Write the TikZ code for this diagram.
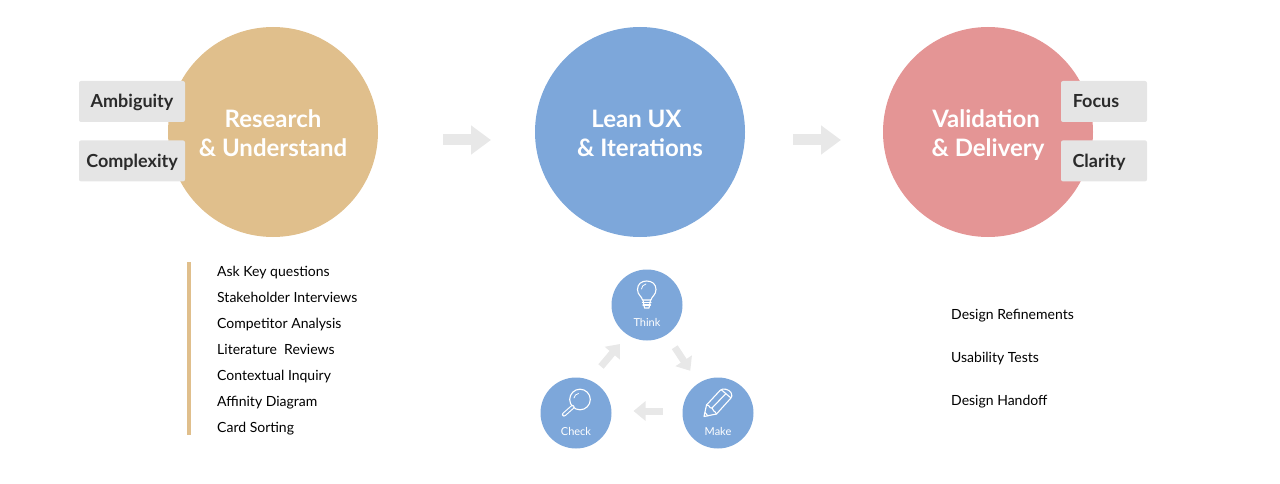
\documentclass[tikz,border=0pt]{standalone}
\usepackage{fontspec}
\setmainfont{Lato}
\usetikzlibrary{arrows.meta,positioning}
\definecolor{sand}{HTML}{E0BF8C}
\definecolor{sky}{HTML}{7DA7DA}
\definecolor{rose}{HTML}{E49595}
\definecolor{tagfill}{HTML}{E5E5E5}
\definecolor{arrowfill}{HTML}{E8E8E8}
\definecolor{inktext}{HTML}{2B2B2B}
\newcommand{\titlestrut}{\rule{0pt}{29pt}}

\begin{document}
\begin{tikzpicture}[x=1pt,y=-1pt]
        \tikzset{stage/.style={circle,inner sep=0pt,outer sep=0pt,minimum size=210pt,align=center,text=white,font=\bfseries\fontsize{24}{29}\selectfont},
        mini/.style={circle,inner sep=0pt,outer sep=0pt,minimum size=71pt,fill=sky},
        minilabel/.style={text=white,inner sep=0pt,font=\fontsize{11}{13}\selectfont},
        tag/.style={fill=tagfill,rounded corners=2pt,inner sep=0pt,minimum height=41pt,text height=15.5pt,text depth=2.5pt,text=inktext,font=\bfseries\fontsize{18}{22}\selectfont},
        item/.style={inner sep=0pt,anchor=base west,text=black,font=\fontsize{14}{17}\selectfont},
        bigarrow/.style={draw=arrowfill,line width=11pt,-{Triangle[length=20pt,width=28pt]}},
        smallarrow/.style={draw=arrowfill,line width=7pt,-{Triangle[length=12pt,width=19pt]}},
        icon/.style={draw=white,line width=1.1pt,line join=round,line cap=round},
        }
        \useasboundingbox (0,0) rectangle (1280,484);

        \node [stage,fill=sand] (research) at (273,132) {\titlestrut Research\\\strut\& Understand};
        \node [stage,fill=sky, right=157pt of research] (lean) {\titlestrut Lean UX\kern7pt\\\strut\& Iterations};
        \node [stage,fill=rose, right=138pt of lean] (validation) {\titlestrut Validation\kern4pt\\\strut\& Delivery};

        \node [tag,minimum width=106pt] (ambiguity) at (132,101.5) {Ambiguity};
        \node [tag,minimum width=106pt,below=18pt of ambiguity] (complexity) {Complexity};
        \node [tag,minimum width=86pt] (focus) at (1104,101.5) {\hspace{-16pt}Focus};
        \node [tag,minimum width=86pt,below=18pt of focus] (clarity) {\hspace{-10pt}Clarity};

        \node [mini] (think) at (647,305) {};
        \node [mini] (make) at (718,413) {};
        \node [mini] (check) at (576,413) {};
        \node [minilabel] (think_label) at (647,322.5) {Think};
        \node [minilabel] (make_label) at (718,431) {Make};
        \node [minilabel] (check_label) at (576,431) {Check};

        \fill [sand] (187,262) rectangle (190.5,435);
        \foreach \name/\ypos/\txt in {ask/276/Ask Key questions,stake/302/Stakeholder Interviews,comp/328/Competitor Analysis,lit/354/Literature\ \ Reviews,inquiry/380/Contextual Inquiry,affinity/406/Affinity Diagram,cards/432/Card Sorting}
            \node [item] (\name) at (217,\ypos) {\txt};
        \foreach \name/\ypos/\txt in {refine/319/Design Refinements,usability/362/Usability Tests,handoff/405/Design Handoff}
            \node [item] (\name) at (951,\ypos) {\txt};

%% paths
        \path [bigarrow,shorten <=65pt,shorten >=44pt] ([yshift=-8pt]research.east) -- ([yshift=-8pt]lean.west);
        \path [bigarrow,shorten <=48pt,shorten >=42pt] ([yshift=-8pt]lean.east) -- ([yshift=-8pt]validation.west);
        \path [smallarrow,shorten <=15pt,shorten >=15pt] (think) -- (make);
        \path [smallarrow,shorten <=20pt,shorten >=22pt] ([yshift=2pt]make.west) -- ([yshift=2pt]check.east);
        \coordinate (check_tail) at (601,366.5);
        \coordinate (think_head) at (620,344);
        \path [smallarrow] (check_tail) -- (think_head);

%% icons
        \draw [icon] (642.5,300) .. controls (642,296.5) and (637.5,295) .. (637.5,289.5) .. controls (637.5,284) and (641.5,281) .. (646.7,281) .. controls (652,281) and (656,284) .. (656,289.5) .. controls (656,295) and (651.5,296.5) .. (651,300) -- cycle;
        \draw [icon] (642.5,302.5) -- (651,302.5) (643,305) -- (650.5,305);
        \draw [icon] (643,300) -- (644.5,308) -- (649,308) -- (650.5,300);
        \draw [icon,line width=.8pt] (641.5,289) .. controls (641.5,286.5) and (643.5,284.5) .. (646,284);

        \draw [icon] (580,399.5) circle[radius=10.3pt];
        \draw [icon,line width=.8pt] (574,398) .. controls (574.5,395.5) and (576,394) .. (578.5,393.5);
        \draw [icon,line width=4.2pt] (572.5,407) -- (564,414.5);
        \draw [sky,line width=2pt,line cap=round] (572.5,407) -- (564,414.5);

        \draw [icon] (706.5,405) -- (720,390.5) .. controls (723,387.5) and (729,389.5) .. (731,392.5) .. controls (732.5,395) and (732,397) .. (730.5,398.5) -- (716.5,414) -- (704,416.5) -- cycle;
        \draw [icon] (706.5,405) .. controls (710,404.5) and (709,409) .. (712,408) .. controls (712,411) and (715,410.5) .. (716.5,414);
        \draw [icon] (708,416) -- (705,412.5);
        \draw [icon] (712,408) -- (726,393.5) (721,389.5) -- (731,398);
\end{tikzpicture}
\end{document}
